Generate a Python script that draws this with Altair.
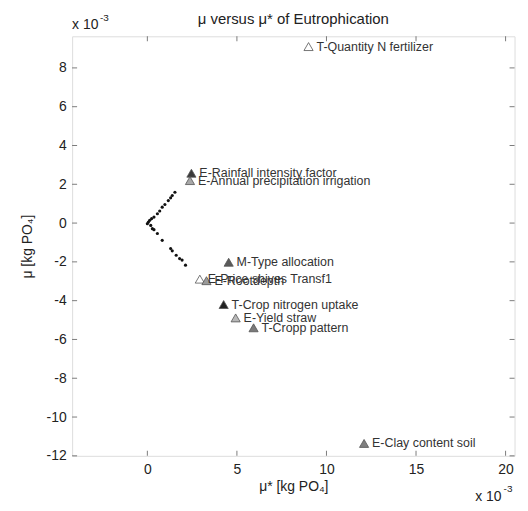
import altair as alt
import pandas as pd

# ---- data (units of 1e-3 kg PO4) ----
names = [
    "T-Quantity N fertilizer",
    "E-Rainfall intensity factor",
    "E-Annual precipitation irrigation",
    "M-Type allocation",
    "E-Price shives Transf1",
    "E-Rootdepth",
    "T-Crop nitrogen uptake",
    "E-Yield straw",
    "T-Cropp pattern",
    "E-Clay content soil",
]
mu_star = [9.0, 2.46, 2.38, 4.54, 2.93, 3.3, 4.26, 4.93, 5.93, 12.1]
mu = [9.1, 2.57, 2.19, -2.02, -2.89, -2.97, -4.2, -4.89, -5.4, -11.36]
fills = ["#ffffff", "#3a3a3a", "#a8a8a8", "#5a5a5a", "#ffffff",
         "#9a9a9a", "#222222", "#b8b8b8", "#7a7a7a", "#808080"]

dot_x = [1.54, 1.39, 1.30, 1.17, 0.98, 0.83, 0.69, 0.56, 0.37, 0.24, 0.13, 0.06, 0.0,
         0.19, 0.28, 0.37, 0.56, 0.83, 1.30, 1.39, 1.61, 1.80, 1.94, 2.13]
dot_y = [1.59, 1.42, 1.30, 1.16, 0.96, 0.82, 0.62, 0.48, 0.31, 0.23, 0.14, 0.05, -0.03,
         -0.12, -0.29, -0.34, -0.54, -0.89, -1.31, -1.43, -1.66, -1.83, -1.91, -2.17]

x_ticks = [0, 5, 10, 15, 20]
y_ticks = [-12, -10, -8, -6, -4, -2, 0, 2, 4, 6, 8]
x_domain = [-4.2, 20.5]
y_domain = [-12, 9.63]

title_text = "μ versus μ* of Eutrophication"
x_title = "μ* [kg PO₄]"
y_title = "μ [kg PO₄]"
exp_base = "x 10"
exp_power = "-3"

W, H = 445, 422
FONT = "Liberation Sans"
TXT = "#222222"

pts = pd.DataFrame({"name": names, "x": mu_star, "y": mu, "fill": fills})
dots = pd.DataFrame({"x": dot_x, "y": dot_y})
xt = pd.DataFrame({"x": x_ticks})
yt = pd.DataFrame({"y": y_ticks})
one = pd.DataFrame({"base": [exp_base], "pw": [exp_power], "title": [title_text]})

xscale = alt.Scale(domain=x_domain, nice=False, zero=False)
yscale = alt.Scale(domain=y_domain, nice=False, zero=False)

xaxis = alt.Axis(values=x_ticks, title=x_title, grid=False, ticks=False, domain=False,
                 labelFont=FONT, labelFontSize=14, labelPadding=7, labelColor=TXT,
                 labelExpr="'' + datum.value",
                 titleFont=FONT, titleFontSize=14, titleFontWeight="normal",
                 titleColor=TXT, titlePadding=3)
yaxis = alt.Axis(values=y_ticks, title=y_title, grid=False, ticks=False, domain=False,
                 labelFont=FONT, labelFontSize=14, labelPadding=6, labelColor=TXT,
                 labelExpr="'' + datum.value",
                 titleFont=FONT, titleFontSize=14, titleFontWeight="normal",
                 titleColor=TXT, titlePadding=12)

X = lambda: alt.X("x:Q", scale=xscale, axis=xaxis)
Y = lambda: alt.Y("y:Q", scale=yscale, axis=yaxis)

dot_layer = alt.Chart(dots).mark_circle(size=10, color="#111111", opacity=1).encode(x=X(), y=Y())

tri_layer = alt.Chart(pts).mark_point(
    shape="triangle-up", filled=True, size=85, stroke="#555555", strokeWidth=0.8, opacity=1
).encode(x=X(), y=Y(), fill=alt.Fill("fill:N", scale=None))

lab_layer = alt.Chart(pts).mark_text(
    align="left", baseline="middle", dx=8, font=FONT, fontSize=12.5, color="#333333"
).encode(x=X(), y=Y(), text="name:N")

tick_style = dict(size=5, thickness=1, color="#444444")
xt_bottom = alt.Chart(xt).mark_tick(orient="vertical", **tick_style).encode(
    x=X(), y=alt.value(H - 2.5))
xt_top = alt.Chart(xt).mark_tick(orient="vertical", **tick_style).encode(
    x=X(), y=alt.value(2.5))
yt_left = alt.Chart(yt).mark_tick(orient="horizontal", **tick_style).encode(
    y=Y(), x=alt.value(2.5))
yt_right = alt.Chart(yt).mark_tick(orient="horizontal", **tick_style).encode(
    y=Y(), x=alt.value(W - 2.5))

def txt(field, x, y, size, align="left"):
    return alt.Chart(one).mark_text(align=align, baseline="alphabetic", font=FONT,
                                    fontSize=size, color=TXT).encode(
        text=f"{field}:N", x=alt.value(x), y=alt.value(y))

title_layer = txt("title", W / 2, -12, 15, align="center")
exp_tl = txt("base", 0, -7, 14)
exp_tl_p = txt("pw", 28, -15, 10)
exp_br = txt("base", 405.5, 467, 14)
exp_br_p = txt("pw", 434, 458, 10)

chart = alt.layer(
    dot_layer, tri_layer, lab_layer, xt_bottom, xt_top, yt_left, yt_right,
    title_layer, exp_tl, exp_tl_p, exp_br, exp_br_p
).properties(
    width=W, height=H,
    autosize=alt.AutoSizeParams(type="none"),
    padding={"left": 64.5, "top": 27, "right": 5.5, "bottom": 46},
).configure_view(stroke="#444444", strokeWidth=1).configure(background="white")

chart.save("out.html", embed_options={"renderer": "svg", "actions": False})
